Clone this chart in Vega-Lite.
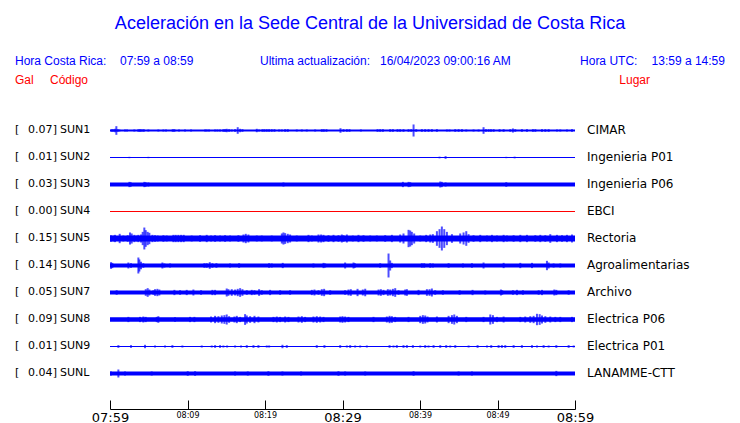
{
  "$schema": "https://vega.github.io/schema/vega-lite/v6.json",
  "width": 465,
  "height": 306,
  "autosize": {"type": "none"},
  "padding": {"left": 110, "top": 103, "right": 165, "bottom": 14},
  "background": "white",
  "config": {"view": {"stroke": null}, "font": "Liberation Sans", "scale": {"continuousPadding": 0}},
  "datasets": {
    "traces": [
      {"c": "SUN1", "row": 1, "gal": "0.07", "place": "CIMAR", "n": 0.0118},
      {"c": "SUN2", "row": 2, "gal": "0.01", "place": "Ingenieria P01", "n": 0.0059},
      {"c": "SUN3", "row": 3, "gal": "0.03", "place": "Ingenieria P06", "n": 0.0235},
      {"c": "SUN4", "row": 4, "gal": "0.00", "place": "EBCI", "n": 0.0059},
      {"c": "SUN5", "row": 5, "gal": "0.15", "place": "Rectoria", "n": 0.0353},
      {"c": "SUN6", "row": 6, "gal": "0.14", "place": "Agroalimentarias", "n": 0.0235},
      {"c": "SUN7", "row": 7, "gal": "0.05", "place": "Archivo", "n": 0.0235},
      {"c": "SUN8", "row": 8, "gal": "0.09", "place": "Electrica P06", "n": 0.0275},
      {"c": "SUN9", "row": 9, "gal": "0.01", "place": "Electrica P01", "n": 0.0059},
      {"c": "SUNL", "row": 10, "gal": "0.04", "place": "LANAMME-CTT", "n": 0.0235}
    ],
    "spikes": [
      {"c":"SUN1","t":0.22,"a":0.016},{"c":"SUN1","t":0.43,"a":0.016},{"c":"SUN1","t":0.65,"a":0.02},{"c":"SUN1","t":0.82,"a":0.051},{"c":"SUN1","t":0.99,"a":0.016},{"c":"SUN1","t":1.21,"a":0.012},{"c":"SUN1","t":1.94,"a":0.012},{"c":"SUN1","t":2.2,"a":0.012},{"c":"SUN1","t":3.14,"a":0.012},{"c":"SUN1","t":3.66,"a":0.016},{"c":"SUN1","t":3.87,"a":0.016},{"c":"SUN1","t":4.09,"a":0.016},{"c":"SUN1","t":4.35,"a":0.016},{"c":"SUN1","t":4.95,"a":0.012},{"c":"SUN1","t":6.24,"a":0.012},{"c":"SUN1","t":6.89,"a":0.012},{"c":"SUN1","t":7.23,"a":0.012},{"c":"SUN1","t":8.09,"a":0.016},{"c":"SUN1","t":8.31,"a":0.016},{"c":"SUN1","t":8.91,"a":0.012},{"c":"SUN1","t":9.68,"a":0.012},{"c":"SUN1","t":10.46,"a":0.012},{"c":"SUN1","t":12.27,"a":0.012},{"c":"SUN1","t":12.48,"a":0.012},{"c":"SUN1","t":12.78,"a":0.012},{"c":"SUN1","t":13.56,"a":0.012},{"c":"SUN1","t":13.86,"a":0.012},{"c":"SUN1","t":14.2,"a":0.012},{"c":"SUN1","t":14.63,"a":0.016},{"c":"SUN1","t":14.85,"a":0.016},{"c":"SUN1","t":15.06,"a":0.02},{"c":"SUN1","t":15.37,"a":0.016},{"c":"SUN1","t":15.71,"a":0.012},{"c":"SUN1","t":16.14,"a":0.016},{"c":"SUN1","t":16.48,"a":0.039},{"c":"SUN1","t":16.79,"a":0.02},{"c":"SUN1","t":17.09,"a":0.016},{"c":"SUN1","t":18.94,"a":0.02},{"c":"SUN1","t":19.24,"a":0.012},{"c":"SUN1","t":19.67,"a":0.016},{"c":"SUN1","t":19.93,"a":0.016},{"c":"SUN1","t":20.23,"a":0.016},{"c":"SUN1","t":20.53,"a":0.016},{"c":"SUN1","t":20.87,"a":0.016},{"c":"SUN1","t":21.22,"a":0.016},{"c":"SUN1","t":21.82,"a":0.012},{"c":"SUN1","t":22.17,"a":0.012},{"c":"SUN1","t":22.6,"a":0.016},{"c":"SUN1","t":22.94,"a":0.016},{"c":"SUN1","t":24.1,"a":0.012},{"c":"SUN1","t":24.75,"a":0.012},{"c":"SUN1","t":25.39,"a":0.012},{"c":"SUN1","t":26.47,"a":0.012},{"c":"SUN1","t":27.33,"a":0.016},{"c":"SUN1","t":27.59,"a":0.016},{"c":"SUN1","t":27.93,"a":0.016},{"c":"SUN1","t":29.74,"a":0.027},{"c":"SUN1","t":30.13,"a":0.016},{"c":"SUN1","t":30.56,"a":0.016},{"c":"SUN1","t":30.9,"a":0.016},{"c":"SUN1","t":32.37,"a":0.012},{"c":"SUN1","t":34.52,"a":0.016},{"c":"SUN1","t":34.86,"a":0.016},{"c":"SUN1","t":35.21,"a":0.016},{"c":"SUN1","t":36.15,"a":0.016},{"c":"SUN1","t":36.5,"a":0.016},{"c":"SUN1","t":37.1,"a":0.016},{"c":"SUN1","t":37.44,"a":0.016},{"c":"SUN1","t":37.87,"a":0.016},{"c":"SUN1","t":38.52,"a":0.016},{"c":"SUN1","t":38.86,"a":0.016},{"c":"SUN1","t":39.17,"a":0.071},{"c":"SUN1","t":39.51,"a":0.016},{"c":"SUN1","t":40.24,"a":0.016},{"c":"SUN1","t":40.67,"a":0.016},{"c":"SUN1","t":41.1,"a":0.016},{"c":"SUN1","t":41.53,"a":0.016},{"c":"SUN1","t":42.18,"a":0.016},{"c":"SUN1","t":43.47,"a":0.012},{"c":"SUN1","t":43.81,"a":0.012},{"c":"SUN1","t":44.55,"a":0.016},{"c":"SUN1","t":44.98,"a":0.016},{"c":"SUN1","t":45.41,"a":0.016},{"c":"SUN1","t":45.97,"a":0.012},{"c":"SUN1","t":46.91,"a":0.012},{"c":"SUN1","t":47.56,"a":0.012},{"c":"SUN1","t":48.2,"a":0.039},{"c":"SUN1","t":48.51,"a":0.016},{"c":"SUN1","t":48.85,"a":0.016},{"c":"SUN1","t":49.15,"a":0.016},{"c":"SUN1","t":49.5,"a":0.016},{"c":"SUN1","t":50.27,"a":0.016},{"c":"SUN1","t":50.79,"a":0.016},{"c":"SUN1","t":51.65,"a":0.016},{"c":"SUN1","t":51.99,"a":0.024},{"c":"SUN1","t":52.29,"a":0.016},{"c":"SUN1","t":53.15,"a":0.016},{"c":"SUN1","t":53.8,"a":0.016},{"c":"SUN1","t":54.57,"a":0.016},{"c":"SUN1","t":54.88,"a":0.016},{"c":"SUN1","t":55.74,"a":0.016},{"c":"SUN1","t":56.17,"a":0.016},{"c":"SUN1","t":56.6,"a":0.016},{"c":"SUN1","t":57.67,"a":0.012},{"c":"SUN1","t":58.1,"a":0.012},{"c":"SUN1","t":58.96,"a":0.012},{"c":"SUN1","t":59.61,"a":0.016},
      {"c":"SUN2","t":2.5,"a":0.008},{"c":"SUN2","t":4.95,"a":0.008},{"c":"SUN2","t":42.52,"a":0.01},{"c":"SUN2","t":43.3,"a":0.016},{"c":"SUN2","t":51.13,"a":0.008},{"c":"SUN2","t":52.21,"a":0.01},
      {"c":"SUN3","t":2.5,"a":0.031},{"c":"SUN3","t":2.67,"a":0.027},{"c":"SUN3","t":4.43,"a":0.031},{"c":"SUN3","t":4.61,"a":0.027},{"c":"SUN3","t":4.95,"a":0.024},{"c":"SUN3","t":22.38,"a":0.024},{"c":"SUN3","t":37.79,"a":0.031},{"c":"SUN3","t":38.52,"a":0.031},{"c":"SUN3","t":38.74,"a":0.027},{"c":"SUN3","t":42.61,"a":0.035},{"c":"SUN3","t":42.82,"a":0.031},{"c":"SUN3","t":43.3,"a":0.024},{"c":"SUN3","t":51.13,"a":0.027},
      {"c":"SUN5","t":0.13,"a":0.039},{"c":"SUN5","t":0.43,"a":0.035},{"c":"SUN5","t":0.65,"a":0.043},{"c":"SUN5","t":1.25,"a":0.055},{"c":"SUN5","t":1.72,"a":0.035},{"c":"SUN5","t":2.28,"a":0.039},{"c":"SUN5","t":2.58,"a":0.071},{"c":"SUN5","t":2.8,"a":0.059},{"c":"SUN5","t":3.14,"a":0.043},{"c":"SUN5","t":3.44,"a":0.035},{"c":"SUN5","t":3.66,"a":0.043},{"c":"SUN5","t":4.0,"a":0.047},{"c":"SUN5","t":4.22,"a":0.078},{"c":"SUN5","t":4.43,"a":0.129},{"c":"SUN5","t":4.61,"a":0.098},{"c":"SUN5","t":4.86,"a":0.078},{"c":"SUN5","t":5.08,"a":0.067},{"c":"SUN5","t":5.47,"a":0.043},{"c":"SUN5","t":5.81,"a":0.039},{"c":"SUN5","t":6.15,"a":0.035},{"c":"SUN5","t":6.89,"a":0.039},{"c":"SUN5","t":7.32,"a":0.035},{"c":"SUN5","t":8.18,"a":0.043},{"c":"SUN5","t":8.48,"a":0.043},{"c":"SUN5","t":8.82,"a":0.043},{"c":"SUN5","t":9.17,"a":0.043},{"c":"SUN5","t":9.51,"a":0.043},{"c":"SUN5","t":10.54,"a":0.035},{"c":"SUN5","t":11.62,"a":0.039},{"c":"SUN5","t":12.48,"a":0.043},{"c":"SUN5","t":13.04,"a":0.035},{"c":"SUN5","t":13.56,"a":0.039},{"c":"SUN5","t":14.2,"a":0.035},{"c":"SUN5","t":14.85,"a":0.039},{"c":"SUN5","t":15.49,"a":0.035},{"c":"SUN5","t":16.57,"a":0.039},{"c":"SUN5","t":17.22,"a":0.047},{"c":"SUN5","t":17.52,"a":0.055},{"c":"SUN5","t":17.86,"a":0.047},{"c":"SUN5","t":18.94,"a":0.035},{"c":"SUN5","t":19.58,"a":0.035},{"c":"SUN5","t":20.87,"a":0.035},{"c":"SUN5","t":22.17,"a":0.059},{"c":"SUN5","t":22.38,"a":0.071},{"c":"SUN5","t":22.6,"a":0.063},{"c":"SUN5","t":22.94,"a":0.055},{"c":"SUN5","t":23.24,"a":0.047},{"c":"SUN5","t":24.1,"a":0.035},{"c":"SUN5","t":25.61,"a":0.043},{"c":"SUN5","t":26.04,"a":0.035},{"c":"SUN5","t":26.9,"a":0.047},{"c":"SUN5","t":27.24,"a":0.047},{"c":"SUN5","t":27.55,"a":0.043},{"c":"SUN5","t":28.19,"a":0.039},{"c":"SUN5","t":28.84,"a":0.043},{"c":"SUN5","t":29.48,"a":0.039},{"c":"SUN5","t":29.91,"a":0.047},{"c":"SUN5","t":30.13,"a":0.039},{"c":"SUN5","t":30.56,"a":0.047},{"c":"SUN5","t":31.33,"a":0.035},{"c":"SUN5","t":32.06,"a":0.043},{"c":"SUN5","t":32.71,"a":0.039},{"c":"SUN5","t":33.57,"a":0.035},{"c":"SUN5","t":34.43,"a":0.035},{"c":"SUN5","t":35.51,"a":0.039},{"c":"SUN5","t":36.37,"a":0.043},{"c":"SUN5","t":37.44,"a":0.047},{"c":"SUN5","t":37.87,"a":0.059},{"c":"SUN5","t":38.52,"a":0.102},{"c":"SUN5","t":38.74,"a":0.094},{"c":"SUN5","t":38.95,"a":0.078},{"c":"SUN5","t":39.25,"a":0.059},{"c":"SUN5","t":40.03,"a":0.035},{"c":"SUN5","t":40.8,"a":0.043},{"c":"SUN5","t":41.32,"a":0.047},{"c":"SUN5","t":41.66,"a":0.051},{"c":"SUN5","t":42.18,"a":0.086},{"c":"SUN5","t":42.52,"a":0.11},{"c":"SUN5","t":42.82,"a":0.141},{"c":"SUN5","t":43.13,"a":0.11},{"c":"SUN5","t":43.47,"a":0.078},{"c":"SUN5","t":44.12,"a":0.051},{"c":"SUN5","t":45.19,"a":0.059},{"c":"SUN5","t":45.62,"a":0.071},{"c":"SUN5","t":45.97,"a":0.086},{"c":"SUN5","t":46.27,"a":0.051},{"c":"SUN5","t":46.91,"a":0.039},{"c":"SUN5","t":47.77,"a":0.043},{"c":"SUN5","t":48.64,"a":0.035},{"c":"SUN5","t":49.28,"a":0.043},{"c":"SUN5","t":49.93,"a":0.035},{"c":"SUN5","t":50.79,"a":0.043},{"c":"SUN5","t":51.22,"a":0.035},{"c":"SUN5","t":52.08,"a":0.039},{"c":"SUN5","t":52.94,"a":0.043},{"c":"SUN5","t":53.8,"a":0.043},{"c":"SUN5","t":54.88,"a":0.039},{"c":"SUN5","t":55.52,"a":0.043},{"c":"SUN5","t":56.17,"a":0.039},{"c":"SUN5","t":56.81,"a":0.051},{"c":"SUN5","t":57.67,"a":0.043},{"c":"SUN5","t":58.32,"a":0.039},{"c":"SUN5","t":58.96,"a":0.043},{"c":"SUN5","t":59.61,"a":0.047},
      {"c":"SUN6","t":0.13,"a":0.039},{"c":"SUN6","t":0.3,"a":0.031},{"c":"SUN6","t":2.37,"a":0.035},{"c":"SUN6","t":2.71,"a":0.027},{"c":"SUN6","t":3.66,"a":0.094},{"c":"SUN6","t":3.79,"a":0.071},{"c":"SUN6","t":4.0,"a":0.043},{"c":"SUN6","t":4.3,"a":0.027},{"c":"SUN6","t":6.76,"a":0.035},{"c":"SUN6","t":7.02,"a":0.024},{"c":"SUN6","t":7.75,"a":0.024},{"c":"SUN6","t":12.18,"a":0.027},{"c":"SUN6","t":12.48,"a":0.027},{"c":"SUN6","t":12.87,"a":0.039},{"c":"SUN6","t":13.21,"a":0.027},{"c":"SUN6","t":13.73,"a":0.027},{"c":"SUN6","t":15.49,"a":0.024},{"c":"SUN6","t":16.66,"a":0.027},{"c":"SUN6","t":20.53,"a":0.027},{"c":"SUN6","t":20.87,"a":0.024},{"c":"SUN6","t":22.29,"a":0.031},{"c":"SUN6","t":26.25,"a":0.024},{"c":"SUN6","t":27.55,"a":0.031},{"c":"SUN6","t":27.76,"a":0.024},{"c":"SUN6","t":30.34,"a":0.035},{"c":"SUN6","t":31.42,"a":0.035},{"c":"SUN6","t":31.59,"a":0.027},{"c":"SUN6","t":34.86,"a":0.027},{"c":"SUN6","t":35.94,"a":0.141},{"c":"SUN6","t":36.15,"a":0.059},{"c":"SUN6","t":36.37,"a":0.031},{"c":"SUN6","t":40.24,"a":0.027},{"c":"SUN6","t":40.54,"a":0.027},{"c":"SUN6","t":41.32,"a":0.027},{"c":"SUN6","t":41.66,"a":0.024},{"c":"SUN6","t":43.69,"a":0.027},{"c":"SUN6","t":45.54,"a":0.024},{"c":"SUN6","t":46.7,"a":0.027},{"c":"SUN6","t":48.2,"a":0.035},{"c":"SUN6","t":50.79,"a":0.031},{"c":"SUN6","t":52.94,"a":0.031},{"c":"SUN6","t":54.45,"a":0.031},{"c":"SUN6","t":56.38,"a":0.055},{"c":"SUN6","t":56.6,"a":0.035},{"c":"SUN6","t":57.24,"a":0.024},{"c":"SUN6","t":58.1,"a":0.024},
      {"c":"SUN7","t":0.86,"a":0.027},{"c":"SUN7","t":4.61,"a":0.039},{"c":"SUN7","t":4.86,"a":0.051},{"c":"SUN7","t":5.08,"a":0.035},{"c":"SUN7","t":5.6,"a":0.027},{"c":"SUN7","t":5.81,"a":0.039},{"c":"SUN7","t":6.11,"a":0.043},{"c":"SUN7","t":6.37,"a":0.035},{"c":"SUN7","t":8.31,"a":0.031},{"c":"SUN7","t":9.04,"a":0.027},{"c":"SUN7","t":9.9,"a":0.031},{"c":"SUN7","t":10.76,"a":0.035},{"c":"SUN7","t":11.75,"a":0.027},{"c":"SUN7","t":13.21,"a":0.031},{"c":"SUN7","t":13.56,"a":0.031},{"c":"SUN7","t":15.06,"a":0.047},{"c":"SUN7","t":15.28,"a":0.039},{"c":"SUN7","t":15.71,"a":0.039},{"c":"SUN7","t":16.14,"a":0.035},{"c":"SUN7","t":16.48,"a":0.043},{"c":"SUN7","t":16.79,"a":0.051},{"c":"SUN7","t":17.09,"a":0.039},{"c":"SUN7","t":17.65,"a":0.027},{"c":"SUN7","t":18.29,"a":0.031},{"c":"SUN7","t":18.64,"a":0.027},{"c":"SUN7","t":19.24,"a":0.039},{"c":"SUN7","t":19.58,"a":0.027},{"c":"SUN7","t":20.66,"a":0.031},{"c":"SUN7","t":21.95,"a":0.027},{"c":"SUN7","t":23.24,"a":0.027},{"c":"SUN7","t":26.04,"a":0.031},{"c":"SUN7","t":26.38,"a":0.035},{"c":"SUN7","t":26.9,"a":0.027},{"c":"SUN7","t":27.33,"a":0.039},{"c":"SUN7","t":27.63,"a":0.043},{"c":"SUN7","t":28.41,"a":0.027},{"c":"SUN7","t":30.34,"a":0.027},{"c":"SUN7","t":30.77,"a":0.035},{"c":"SUN7","t":31.07,"a":0.039},{"c":"SUN7","t":31.94,"a":0.043},{"c":"SUN7","t":32.62,"a":0.035},{"c":"SUN7","t":32.93,"a":0.043},{"c":"SUN7","t":34.65,"a":0.035},{"c":"SUN7","t":34.95,"a":0.039},{"c":"SUN7","t":35.29,"a":0.031},{"c":"SUN7","t":35.85,"a":0.039},{"c":"SUN7","t":36.15,"a":0.035},{"c":"SUN7","t":36.5,"a":0.043},{"c":"SUN7","t":36.8,"a":0.051},{"c":"SUN7","t":37.23,"a":0.027},{"c":"SUN7","t":38.09,"a":0.035},{"c":"SUN7","t":38.31,"a":0.039},{"c":"SUN7","t":39.81,"a":0.031},{"c":"SUN7","t":40.89,"a":0.039},{"c":"SUN7","t":41.23,"a":0.039},{"c":"SUN7","t":41.53,"a":0.047},{"c":"SUN7","t":41.96,"a":0.027},{"c":"SUN7","t":42.95,"a":0.027},{"c":"SUN7","t":45.11,"a":0.027},{"c":"SUN7","t":46.78,"a":0.031},{"c":"SUN7","t":48.42,"a":0.024},{"c":"SUN7","t":50.44,"a":0.035},{"c":"SUN7","t":50.61,"a":0.027},{"c":"SUN7","t":51.99,"a":0.027},{"c":"SUN7","t":52.51,"a":0.031},{"c":"SUN7","t":53.28,"a":0.027},{"c":"SUN7","t":55.31,"a":0.027},{"c":"SUN7","t":55.74,"a":0.031},{"c":"SUN7","t":57.33,"a":0.035},{"c":"SUN7","t":57.59,"a":0.031},{"c":"SUN7","t":59.18,"a":0.027},
      {"c":"SUN8","t":2.37,"a":0.031},{"c":"SUN8","t":3.87,"a":0.031},{"c":"SUN8","t":4.3,"a":0.035},{"c":"SUN8","t":4.61,"a":0.031},{"c":"SUN8","t":6.03,"a":0.031},{"c":"SUN8","t":6.24,"a":0.039},{"c":"SUN8","t":8.39,"a":0.027},{"c":"SUN8","t":10.33,"a":0.031},{"c":"SUN8","t":10.89,"a":0.031},{"c":"SUN8","t":13.04,"a":0.035},{"c":"SUN8","t":13.56,"a":0.043},{"c":"SUN8","t":13.99,"a":0.039},{"c":"SUN8","t":14.42,"a":0.047},{"c":"SUN8","t":14.76,"a":0.051},{"c":"SUN8","t":15.06,"a":0.059},{"c":"SUN8","t":15.37,"a":0.039},{"c":"SUN8","t":16.05,"a":0.035},{"c":"SUN8","t":16.36,"a":0.043},{"c":"SUN8","t":16.79,"a":0.031},{"c":"SUN8","t":17.43,"a":0.063},{"c":"SUN8","t":17.65,"a":0.047},{"c":"SUN8","t":18.08,"a":0.039},{"c":"SUN8","t":18.64,"a":0.043},{"c":"SUN8","t":19.15,"a":0.035},{"c":"SUN8","t":21.09,"a":0.031},{"c":"SUN8","t":21.52,"a":0.035},{"c":"SUN8","t":21.95,"a":0.031},{"c":"SUN8","t":22.6,"a":0.035},{"c":"SUN8","t":23.03,"a":0.031},{"c":"SUN8","t":24.32,"a":0.035},{"c":"SUN8","t":24.75,"a":0.039},{"c":"SUN8","t":25.18,"a":0.031},{"c":"SUN8","t":26.25,"a":0.035},{"c":"SUN8","t":26.68,"a":0.039},{"c":"SUN8","t":27.12,"a":0.035},{"c":"SUN8","t":27.55,"a":0.031},{"c":"SUN8","t":29.7,"a":0.035},{"c":"SUN8","t":30.0,"a":0.039},{"c":"SUN8","t":30.34,"a":0.035},{"c":"SUN8","t":30.77,"a":0.031},{"c":"SUN8","t":34.0,"a":0.031},{"c":"SUN8","t":35.72,"a":0.035},{"c":"SUN8","t":36.07,"a":0.043},{"c":"SUN8","t":36.37,"a":0.039},{"c":"SUN8","t":36.8,"a":0.031},{"c":"SUN8","t":38.52,"a":0.031},{"c":"SUN8","t":40.03,"a":0.043},{"c":"SUN8","t":40.37,"a":0.051},{"c":"SUN8","t":40.67,"a":0.047},{"c":"SUN8","t":40.97,"a":0.035},{"c":"SUN8","t":42.18,"a":0.035},{"c":"SUN8","t":43.69,"a":0.043},{"c":"SUN8","t":44.12,"a":0.051},{"c":"SUN8","t":44.42,"a":0.059},{"c":"SUN8","t":44.76,"a":0.043},{"c":"SUN8","t":45.97,"a":0.031},{"c":"SUN8","t":48.2,"a":0.031},{"c":"SUN8","t":49.07,"a":0.059},{"c":"SUN8","t":49.41,"a":0.051},{"c":"SUN8","t":49.93,"a":0.031},{"c":"SUN8","t":50.79,"a":0.035},{"c":"SUN8","t":52.94,"a":0.031},{"c":"SUN8","t":53.58,"a":0.035},{"c":"SUN8","t":54.23,"a":0.039},{"c":"SUN8","t":54.66,"a":0.043},{"c":"SUN8","t":55.09,"a":0.067},{"c":"SUN8","t":55.44,"a":0.063},{"c":"SUN8","t":55.74,"a":0.047},{"c":"SUN8","t":56.17,"a":0.039},{"c":"SUN8","t":56.81,"a":0.035},{"c":"SUN8","t":57.46,"a":0.031},{"c":"SUN8","t":58.1,"a":0.031},{"c":"SUN8","t":59.61,"a":0.031},
      {"c":"SUN9","t":1.08,"a":0.016},{"c":"SUN9","t":2.71,"a":0.016},{"c":"SUN9","t":4.52,"a":0.02},{"c":"SUN9","t":5.81,"a":0.012},{"c":"SUN9","t":7.1,"a":0.012},{"c":"SUN9","t":8.05,"a":0.016},{"c":"SUN9","t":9.34,"a":0.012},{"c":"SUN9","t":11.84,"a":0.012},{"c":"SUN9","t":13.13,"a":0.012},{"c":"SUN9","t":13.56,"a":0.016},{"c":"SUN9","t":14.2,"a":0.016},{"c":"SUN9","t":14.63,"a":0.012},{"c":"SUN9","t":15.11,"a":0.012},{"c":"SUN9","t":16.14,"a":0.012},{"c":"SUN9","t":16.91,"a":0.012},{"c":"SUN9","t":17.65,"a":0.016},{"c":"SUN9","t":18.51,"a":0.016},{"c":"SUN9","t":19.15,"a":0.016},{"c":"SUN9","t":20.23,"a":0.012},{"c":"SUN9","t":20.53,"a":0.012},{"c":"SUN9","t":22.25,"a":0.02},{"c":"SUN9","t":22.81,"a":0.016},{"c":"SUN9","t":26.68,"a":0.016},{"c":"SUN9","t":27.67,"a":0.016},{"c":"SUN9","t":29.7,"a":0.016},{"c":"SUN9","t":30.56,"a":0.012},{"c":"SUN9","t":30.99,"a":0.016},{"c":"SUN9","t":31.63,"a":0.012},{"c":"SUN9","t":32.28,"a":0.012},{"c":"SUN9","t":33.14,"a":0.012},{"c":"SUN9","t":36.07,"a":0.016},{"c":"SUN9","t":36.58,"a":0.012},{"c":"SUN9","t":37.01,"a":0.016},{"c":"SUN9","t":37.87,"a":0.016},{"c":"SUN9","t":38.31,"a":0.016},{"c":"SUN9","t":39.08,"a":0.016},{"c":"SUN9","t":40.03,"a":0.012},{"c":"SUN9","t":40.67,"a":0.016},{"c":"SUN9","t":41.1,"a":0.012},{"c":"SUN9","t":41.75,"a":0.016},{"c":"SUN9","t":42.61,"a":0.016},{"c":"SUN9","t":43.38,"a":0.016},{"c":"SUN9","t":43.9,"a":0.012},{"c":"SUN9","t":44.55,"a":0.016},{"c":"SUN9","t":46.27,"a":0.012},{"c":"SUN9","t":47.43,"a":0.016},{"c":"SUN9","t":48.64,"a":0.012},{"c":"SUN9","t":49.19,"a":0.016},{"c":"SUN9","t":50.14,"a":0.016},{"c":"SUN9","t":50.57,"a":0.016},{"c":"SUN9","t":51.0,"a":0.016},{"c":"SUN9","t":52.08,"a":0.016},{"c":"SUN9","t":53.15,"a":0.016},{"c":"SUN9","t":54.45,"a":0.016},{"c":"SUN9","t":55.09,"a":0.012},{"c":"SUN9","t":55.95,"a":0.016},{"c":"SUN9","t":56.6,"a":0.012},{"c":"SUN9","t":57.59,"a":0.016},{"c":"SUN9","t":59.18,"a":0.016},{"c":"SUN9","t":59.83,"a":0.012},
      {"c":"SUNL","t":0.13,"a":0.024},{"c":"SUNL","t":1.08,"a":0.047},{"c":"SUNL","t":1.94,"a":0.024},{"c":"SUNL","t":5.38,"a":0.024},{"c":"SUNL","t":10.03,"a":0.027},{"c":"SUNL","t":10.98,"a":0.027},{"c":"SUNL","t":16.14,"a":0.024},{"c":"SUNL","t":17.78,"a":0.024},{"c":"SUNL","t":20.44,"a":0.027},{"c":"SUNL","t":22.25,"a":0.024},{"c":"SUNL","t":24.66,"a":0.024},{"c":"SUNL","t":29.48,"a":0.027},{"c":"SUNL","t":30.34,"a":0.024},{"c":"SUNL","t":32.93,"a":0.024},{"c":"SUNL","t":39.17,"a":0.027},{"c":"SUNL","t":44.98,"a":0.024},{"c":"SUNL","t":46.7,"a":0.024},{"c":"SUNL","t":57.59,"a":0.031}
    ]
  },
  "layer": [
    {
      "data": {"name": "traces"},
      "mark": {"type": "bar", "orient": "horizontal", "yOffset": 0.5},
      "encoding": {
        "x": {"datum": 0, "type": "quantitative", "scale": {"domain": [0, 60], "nice": false, "zero": false, "padding": 0},
          "axis": {"values": [0,5,10,15,20,25,30,35,40,45,50,55,60], "title": null, "grid": false, "domain": true, "domainColor": "black", "domainWidth": 1, "ticks": true, "tickColor": "black", "tickSize": -9, "tickWidth": 1, "labelColor": "black", "labelFont": "DejaVu Sans", "labelFontWeight": "normal", "labelFontSize": {"condition": {"test": "datum.value % 30 == 0", "value": 13}, "value": 8}, "labelPadding": 11, "labelFlush": false, "labelOverlap": false, "labelExpr": "datum.value == 0 ? '07:59' : datum.value == 10 ? '08:09' : datum.value == 20 ? '08:19' : datum.value == 30 ? '08:29' : datum.value == 40 ? '08:39' : datum.value == 50 ? '08:49' : datum.value == 60 ? '08:59' : ''"}},
        "x2": {"datum": 60},
        "y": {"field": "row", "type": "quantitative", "scale": {"domain": [0, 11.3333], "reverse": true, "nice": false, "zero": false, "padding": 0}, "axis": null},
        "size": {"field": "n", "type": "quantitative", "scale": {"domain": [0, 0.15], "range": [0, 25.5], "zero": true}, "legend": null},
        "color": {"field": "c", "type": "nominal", "scale": {"domain": ["SUN1","SUN2","SUN3","SUN4","SUN5","SUN6","SUN7","SUN8","SUN9","SUNL"], "range": ["#0000ff","#0000ff","#0000ff","#ff0000","#0000ff","#0000ff","#0000ff","#0000ff","#0000ff","#0000ff"]}, "legend": null}
      }
    },
    {
      "data": {"name": "spikes"},
      "transform": [{"lookup": "c", "from": {"data": {"name": "traces"}, "key": "c", "fields": ["row"]}}],
      "mark": {"type": "tick", "orient": "vertical", "thickness": 2, "color": "#0000ff", "yOffset": 0.5},
      "encoding": {
        "x": {"field": "t", "type": "quantitative"},
        "y": {"field": "row", "type": "quantitative"},
        "size": {"field": "a", "type": "quantitative", "legend": null}
      }
    },
    {
      "data": {"name": "traces"},
      "mark": {"type": "text", "align": "left", "baseline": "middle", "font": "DejaVu Sans", "fontSize": 11, "color": "black"},
      "encoding": {"x": {"datum": -12.26}, "y": {"field": "row", "type": "quantitative"}, "text": {"value": "["}}
    },
    {
      "data": {"name": "traces"},
      "mark": {"type": "text", "align": "left", "baseline": "middle", "font": "DejaVu Sans", "fontSize": 11, "color": "black"},
      "encoding": {"x": {"datum": -10.58}, "y": {"field": "row", "type": "quantitative"}, "text": {"field": "gal"}}
    },
    {
      "data": {"name": "traces"},
      "mark": {"type": "text", "align": "left", "baseline": "middle", "font": "DejaVu Sans", "fontSize": 11, "color": "black"},
      "encoding": {"x": {"datum": -7.4}, "y": {"field": "row", "type": "quantitative"}, "text": {"value": "]"}}
    },
    {
      "data": {"name": "traces"},
      "mark": {"type": "text", "align": "left", "baseline": "middle", "font": "DejaVu Sans", "fontSize": 11, "color": "black"},
      "encoding": {"x": {"datum": -6.45}, "y": {"field": "row", "type": "quantitative"}, "text": {"field": "c"}}
    },
    {
      "data": {"name": "traces"},
      "mark": {"type": "text", "align": "left", "baseline": "middle", "font": "DejaVu Sans", "fontSize": 12, "color": "black"},
      "encoding": {"x": {"datum": 61.55}, "y": {"field": "row", "type": "quantitative"}, "text": {"field": "place"}}
    },
    {
      "data": {"values": [{}]},
      "mark": {"type": "text", "align": "center", "baseline": "alphabetic", "font": "Liberation Sans", "fontSize": 18, "color": "#0000ff"},
      "encoding": {"x": {"datum": 33.55}, "y": {"datum": -2.74}, "text": {"value": "Aceleración en la Sede Central de la Universidad de Costa Rica"}}
    },
    {
      "data": {"values": [{}]},
      "mark": {"type": "text", "align": "left", "baseline": "alphabetic", "font": "Liberation Sans", "fontSize": 12, "color": "#0000ff"},
      "encoding": {"x": {"datum": -12.26}, "y": {"datum": -1.41}, "text": {"value": "Hora Costa Rica:"}}
    },
    {
      "data": {"values": [{}]},
      "mark": {"type": "text", "align": "left", "baseline": "alphabetic", "font": "Liberation Sans", "fontSize": 12, "color": "#0000ff"},
      "encoding": {"x": {"datum": 1.29}, "y": {"datum": -1.41}, "text": {"value": "07:59 a 08:59"}}
    },
    {
      "data": {"values": [{}]},
      "mark": {"type": "text", "align": "left", "baseline": "alphabetic", "font": "Liberation Sans", "fontSize": 12, "color": "#0000ff"},
      "encoding": {"x": {"datum": 19.35}, "y": {"datum": -1.41}, "text": {"value": "Ultima actualización:"}}
    },
    {
      "data": {"values": [{}]},
      "mark": {"type": "text", "align": "left", "baseline": "alphabetic", "font": "Liberation Sans", "fontSize": 12, "color": "#0000ff"},
      "encoding": {"x": {"datum": 34.84}, "y": {"datum": -1.41}, "text": {"value": "16/04/2023 09:00:16 AM"}}
    },
    {
      "data": {"values": [{}]},
      "mark": {"type": "text", "align": "left", "baseline": "alphabetic", "font": "Liberation Sans", "fontSize": 12, "color": "#0000ff"},
      "encoding": {"x": {"datum": 60.65}, "y": {"datum": -1.41}, "text": {"value": "Hora UTC:"}}
    },
    {
      "data": {"values": [{}]},
      "mark": {"type": "text", "align": "right", "baseline": "alphabetic", "font": "Liberation Sans", "fontSize": 12, "color": "#0000ff"},
      "encoding": {"x": {"datum": 79.35}, "y": {"datum": -1.41}, "text": {"value": "13:59 a 14:59"}}
    },
    {
      "data": {"values": [{}]},
      "mark": {"type": "text", "align": "left", "baseline": "alphabetic", "font": "Liberation Sans", "fontSize": 12, "color": "#ff0000"},
      "encoding": {"x": {"datum": -12.26}, "y": {"datum": -0.7}, "text": {"value": "Gal"}}
    },
    {
      "data": {"values": [{}]},
      "mark": {"type": "text", "align": "left", "baseline": "alphabetic", "font": "Liberation Sans", "fontSize": 12, "color": "#ff0000"},
      "encoding": {"x": {"datum": -7.74}, "y": {"datum": -0.7}, "text": {"value": "Código"}}
    },
    {
      "data": {"values": [{}]},
      "mark": {"type": "text", "align": "right", "baseline": "alphabetic", "font": "Liberation Sans", "fontSize": 12, "color": "#ff0000"},
      "encoding": {"x": {"datum": 69.68}, "y": {"datum": -0.7}, "text": {"value": "Lugar"}}
    }
  ]
}
